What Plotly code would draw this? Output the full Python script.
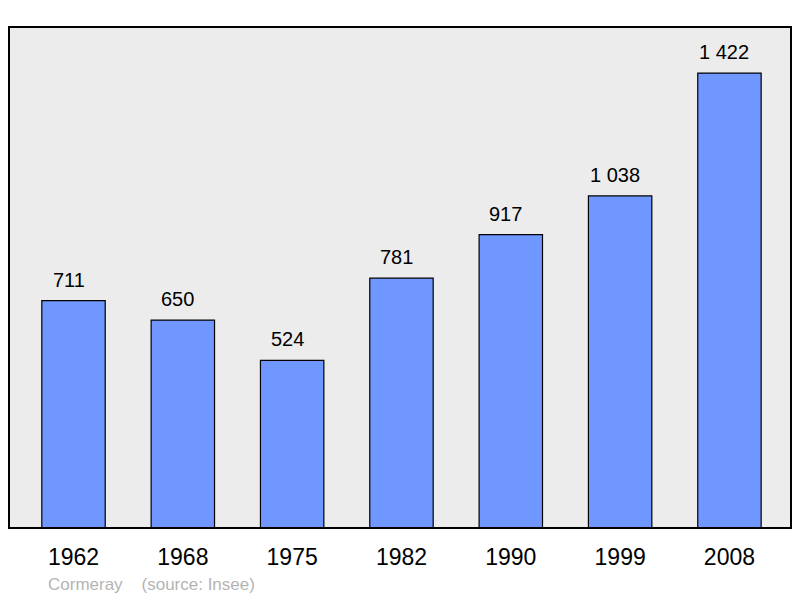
import plotly.graph_objects as go

years = ["1962", "1968", "1975", "1982", "1990", "1999", "2008"]
population = [711, 650, 524, 781, 917, 1038, 1422]
labels = ["711", "650", "524", "781", "917", "1 038", "1 422"]

xs = list(range(len(years)))

fig = go.Figure()
fig.add_trace(go.Bar(
    x=xs, y=population, width=0.58,
    marker=dict(color="#7096ff", line=dict(color="#000000", width=1.2)),
    hoverinfo="skip",
))

for x, v, t in zip(xs, population, labels):
    fig.add_annotation(x=x, y=v, text=t, showarrow=False, yanchor="bottom",
                       yshift=8, xshift=-5,
                       font=dict(family="Liberation Sans", size=20, color="#000"))

fig.add_annotation(xref="paper", yref="paper", x=(46 - 9) / 782, y=-(584 - 528) / 501,
                   xanchor="left", yanchor="middle", showarrow=False,
                   text="Cormeray &nbsp;&nbsp;&nbsp;(source: Insee)",
                   font=dict(family="Liberation Sans", size=17, color="#b4b4b4"))

fig.add_shape(type="rect", xref="paper", yref="paper", x0=0, y0=0, x1=1, y1=1,
              line=dict(color="#000", width=2), layer="above")

fig.update_layout(
    width=792, height=590,
    margin=dict(l=1, r=9, t=19, b=70),
    paper_bgcolor="#ffffff", plot_bgcolor="#ececec",
    showlegend=False,
    xaxis=dict(range=[-0.59, 6.563], tickmode="array", tickvals=xs, ticktext=years,
               showgrid=False, zeroline=False, ticks="outside", ticklen=8,
               tickcolor="rgba(0,0,0,0)",
               tickfont=dict(family="Liberation Sans", size=23, color="#000")),
    yaxis=dict(range=[0, 1566], showgrid=False, zeroline=False, showticklabels=False),
)

fig.write_html("out.html")
